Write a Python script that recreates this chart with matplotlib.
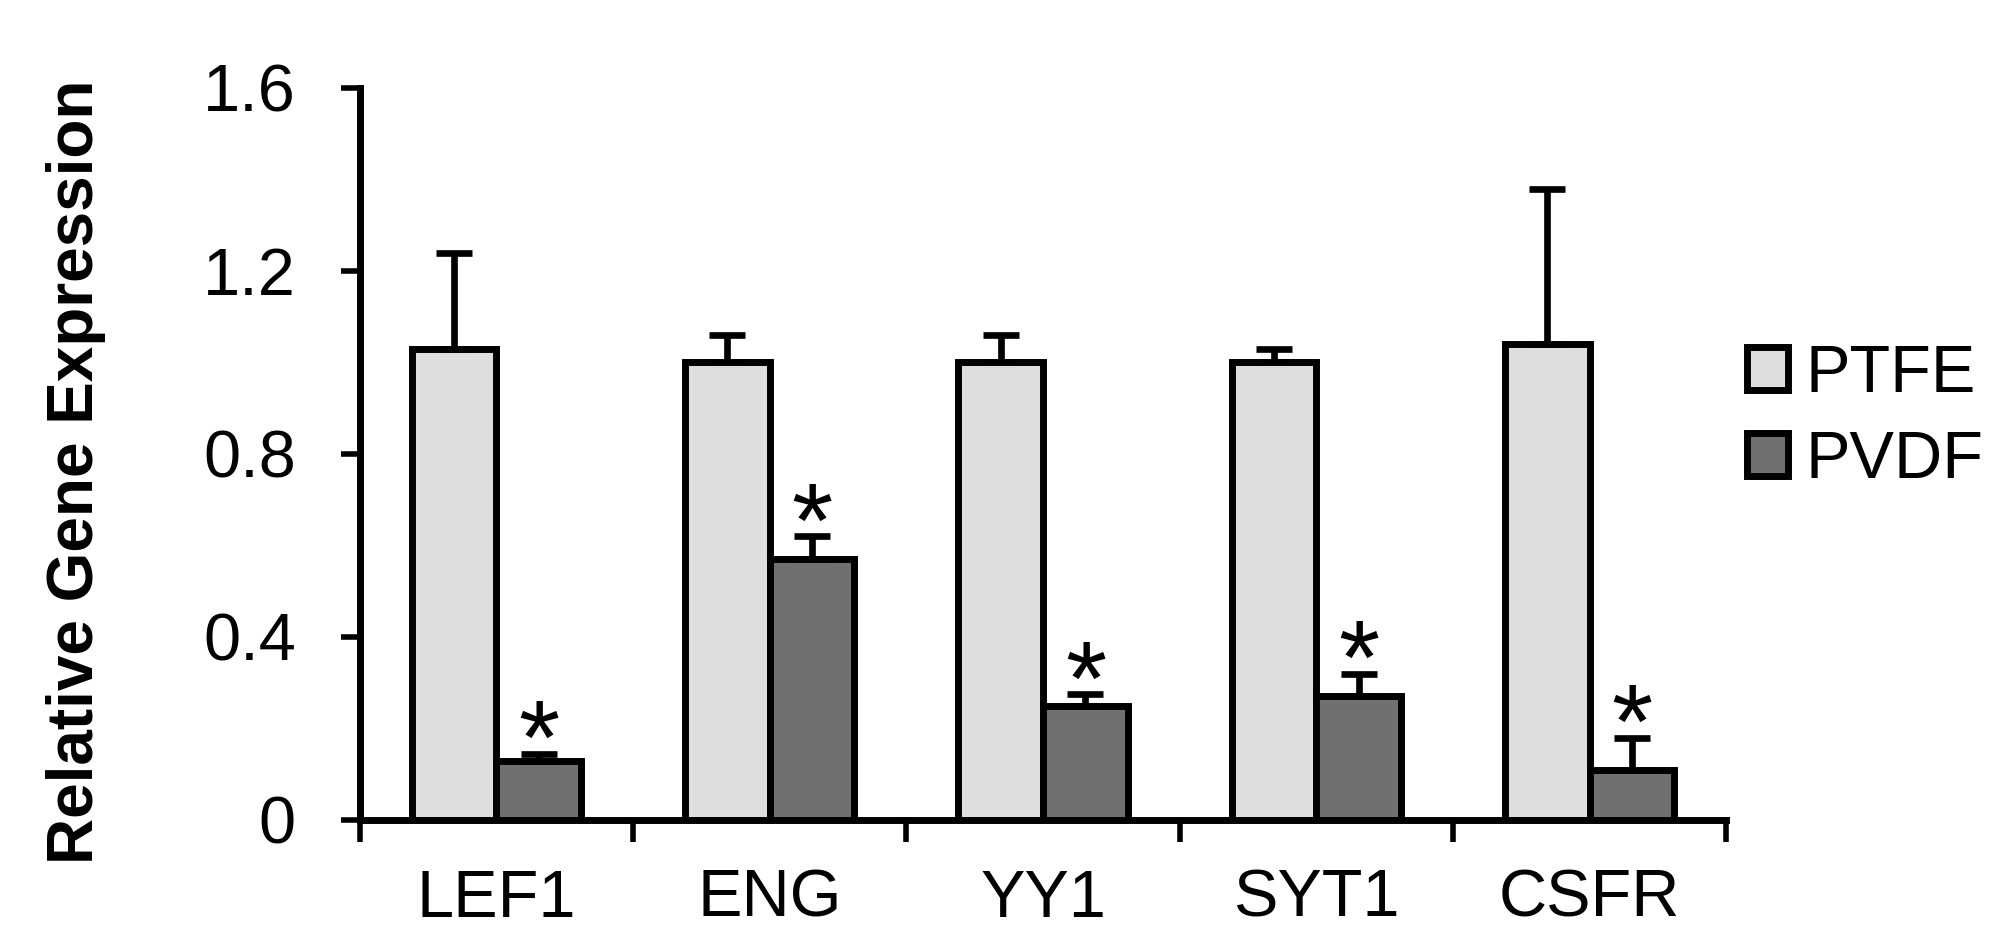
import numpy as np
import matplotlib
matplotlib.use("Agg")
import matplotlib.pyplot as plt

plt.rcParams["font.family"] = ["Liberation Sans", "DejaVu Sans"]

# Data
genes = ["LEF1", "ENG", "YY1", "SYT1", "CSFR"]
ptfe = [1.03, 1.00, 1.00, 1.00, 1.04]
ptfe_err = [0.21, 0.06, 0.06, 0.03, 0.34]
pvdf = [0.13, 0.57, 0.25, 0.27, 0.11]
pvdf_err = [0.015, 0.05, 0.025, 0.05, 0.07]
significant = [True, True, True, True, True]
yticks = [0, 0.4, 0.8, 1.2, 1.6]
ytick_labels = ["0", "0.4", "0.8", "1.2", "1.6"]

fig = plt.figure(figsize=(19.99, 9.35), dpi=100)
ax = fig.add_axes([0.180, 0.123, 0.6835, 0.783])

x = np.arange(len(genes))
w = 0.31
err_kw = dict(ecolor="black", elinewidth=4.8, capsize=13, capthick=4.8)

ax.bar(x - w / 2, ptfe, w, color="#dedede", edgecolor="black", linewidth=5,
       yerr=[np.zeros(len(ptfe)), ptfe_err], error_kw=err_kw, label="PTFE", zorder=2)
ax.bar(x + w / 2, pvdf, w, color="#707070", edgecolor="black", linewidth=5,
       yerr=[np.zeros(len(pvdf)), pvdf_err], error_kw=err_kw, label="PVDF", zorder=2)

for i in range(len(genes)):
    if significant[i]:
        ax.text(x[i] + w / 2, pvdf[i] + pvdf_err[i] - 0.045, "*", ha="center",
                va="baseline", fontsize=76)

ax.set_xlim(-0.5, len(genes) - 0.5)
ax.set_ylim(0, 1.6)
ax.set_yticks(yticks)
ax.set_yticklabels(ytick_labels)

# category labels centred, tick marks on category boundaries
ax.set_xticks(np.arange(len(genes) + 1) - 0.5)
ax.set_xticklabels([])
ax.set_xticks(x, minor=True)
ax.set_xticklabels(genes, minor=True)
ax.tick_params(axis="x", which="major", direction="out", length=16, width=4)
ax.tick_params(axis="x", which="minor", length=0, pad=35, labelsize=48)
ax.tick_params(axis="y", direction="out", length=14, width=4, pad=32, labelsize=48)

for s in ["top", "right"]:
    ax.spines[s].set_visible(False)
for s in ["left", "bottom"]:
    ax.spines[s].set_linewidth(5)

ax.set_ylabel("Relative Gene Expression", fontsize=46, fontweight="bold")
ax.yaxis.set_label_coords(-0.186, 0.475)

fig.legend(loc="center left", bbox_to_anchor=(0.874, 0.553), frameon=False,
           fontsize=48, handlelength=0.62, handleheight=0.62, handletextpad=0.25,
           labelspacing=0.35, borderpad=0, borderaxespad=0)

fig.savefig("out.png", dpi=100)
